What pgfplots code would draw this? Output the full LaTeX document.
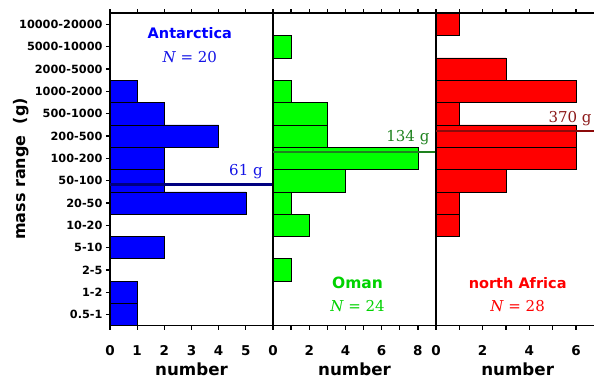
\documentclass[border=0pt]{standalone}
\usepackage{fontspec}
\setmainfont{DejaVu Sans}
\newfontfamily\serf{DejaVu Serif}
\usepackage{pgfplots}
\usepackage{pgfplotstable}
\pgfplotsset{compat=1.18}
\definecolor{cblue}{RGB}{0,0,255}
\definecolor{cgreen}{RGB}{0,255,0}
\definecolor{cred}{RGB}{255,0,0}
\definecolor{tgreen}{RGB}{0,210,0}
\definecolor{mblue}{RGB}{0,0,128}
\definecolor{mgreen}{RGB}{30,130,30}
\definecolor{mred}{RGB}{140,10,10}
\definecolor{lblue}{RGB}{20,20,230}
\definecolor{lred}{RGB}{140,25,25}

% category index: 0=0.5-1, 1=1-2, 2=2-5, 3=5-10, 4=10-20, 5=20-50, 6=50-100,
% 7=100-200, 8=200-500, 9=500-1000, 10=1000-2000, 11=2000-5000, 12=5000-10000, 13=10000-20000
\pgfplotstableread{
idx count
0 1
1 1
3 2
5 5
6 2
7 2
8 4
9 2
10 1
}\antarctica
\pgfplotstableread{
idx count
2 1
4 2
5 1
6 4
7 8
8 3
9 3
10 1
12 1
}\oman
\pgfplotstableread{
idx count
4 1
5 1
6 3
7 6
8 6
9 1
10 6
11 3
13 1
}\nafrica

\pgfplotsset{
  panel/.style={
    scale only axis,
    height=312.4pt,
    ymin=-0.5, ymax=13.5,
    xmin=0,
    axis line style={line width=1.6pt},
    every tick/.style={black, line width=1.3pt},
    tick align=outside,
    major tick length=4pt,
    minor tick length=4pt,
    xtick pos=both,
    xticklabel pos=lower,
    ytick pos=left,
    /pgf/number format/assume math mode=true,
    xticklabel style={font=\fontsize{13.5}{14}\selectfont\bfseries, anchor=base, yshift=-26pt},
    xlabel={number},
    xlabel style={font=\fontsize{16.7}{18}\selectfont\bfseries, at={(axis description cs:0.5,0)}, anchor=base, yshift=-50.3pt},
    clip=false,
  },
  bars/.style={xbar, bar width=1, draw=black, line width=0.6pt},
}

\begin{document}
\begin{tikzpicture}
\path[use as bounding box] (0pt,0pt) rectangle (594pt,379pt);

% Antarctica
\begin{axis}[panel,
  at={(110pt,53.3pt)}, anchor=south west,
  width=163pt, xmax=6,
  xtick={0,1,2,3,4,5},
  ytick={0,...,13},
  yticklabels={0.5-1,1-2,2-5,5-10,10-20,20-50,50-100,100-200,200-500,500-1000,1000-2000,2000-5000,5000-10000,10000-20000},
  yticklabel style={font=\fontsize{11.3}{12}\selectfont\bfseries},
]
\addplot[bars, fill=cblue] table[x=count, y=idx] {\antarctica};
\addplot[mblue, line width=2.2pt, no marks] coordinates {(0,5.83) (6,5.83)};
\node[anchor=base east, font=\serf\fontsize{15}{16}\selectfont, text=lblue] at (axis cs:5.75,6.23) {61 g};
\node[anchor=base, font=\fontsize{14.5}{16}\selectfont\bfseries, text=cblue] at (axis cs:2.94,12.39) {Antarctica};
\node[anchor=base, font=\serf\fontsize{15}{16}\selectfont, text=lblue] at (axis cs:2.94,11.31) {{\itshape N} = 20};
\end{axis}

% Oman
\begin{axis}[panel,
  at={(273pt,53.3pt)}, anchor=south west,
  width=163pt, xmax=9,
  xtick={0,2,4,6,8},
  minor xtick={1,3,5,7},
  ytick=\empty,
]
\addplot[bars, fill=cgreen] table[x=count, y=idx] {\oman};
\addplot[mgreen, line width=2.2pt, no marks] coordinates {(0,7.28) (9,7.28)};
\node[anchor=base east, font=\serf\fontsize{15}{16}\selectfont, text=mgreen] at (axis cs:8.83,7.75) {134 g};
\node[anchor=base, font=\fontsize{15.5}{16}\selectfont\bfseries, text=tgreen] at (axis cs:4.67,1.15) {Oman};
\node[anchor=base, font=\serf\fontsize{15}{16}\selectfont, text=tgreen] at (axis cs:4.67,0.13) {{\itshape N} = 24};
\end{axis}

% north Africa
\begin{axis}[panel,
  at={(436pt,53.3pt)}, anchor=south west,
  width=163.3pt, xmax=7,
  xtick={0,2,4,6},
  minor xtick={1,3,5},
  ytick=\empty,
]
\addplot[bars, fill=cred] table[x=count, y=idx] {\nafrica};
\addplot[mred, line width=2.2pt, no marks] coordinates {(0,8.23) (7,8.23)};
\node[anchor=base east, inner sep=1pt, font=\serf\fontsize{15}{16}\selectfont, text=lred] at (axis cs:6.72,8.60) {370 g};
\node[anchor=base, font=\fontsize{14.5}{16}\selectfont\bfseries, text=cred] at (axis cs:3.5,1.15) {north Africa};
\node[anchor=base, font=\serf\fontsize{15}{16}\selectfont, text=cred] at (axis cs:3.5,0.13) {{\itshape N} = 28};
\end{axis}

\node[rotate=90, anchor=center, font=\fontsize{16}{18}\selectfont\bfseries] at (21pt,210pt) {mass range\ \ (g)};
\end{tikzpicture}
\end{document}
